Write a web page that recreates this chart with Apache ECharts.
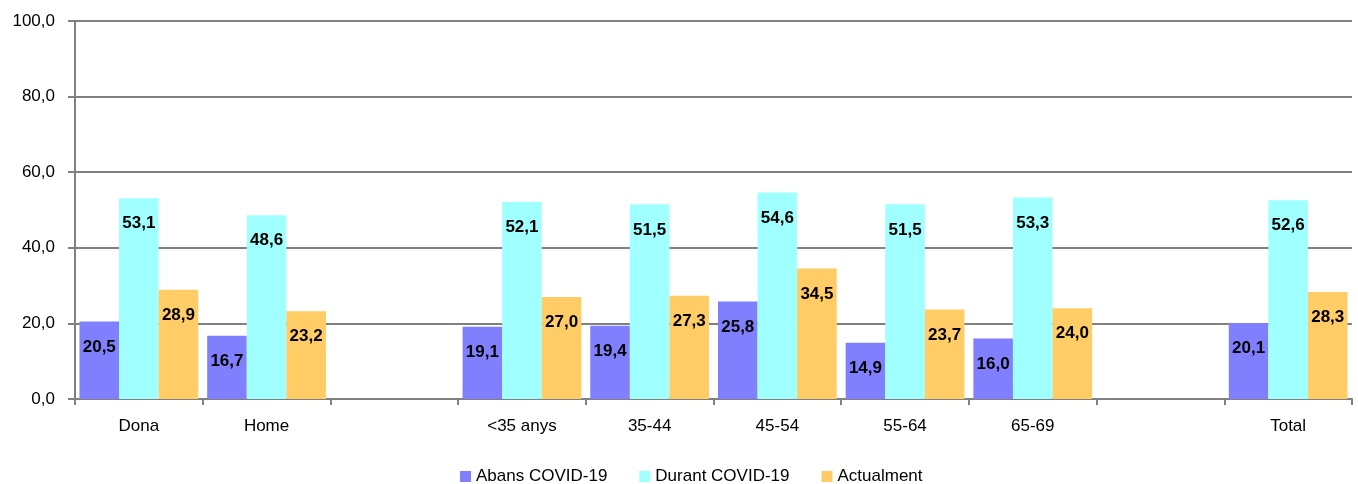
<!DOCTYPE html>
<html><head><meta charset="utf-8">
<script src="https://cdn.jsdelivr.net/npm/echarts@6/dist/echarts.min.js"></script>
<style>html,body{margin:0;padding:0;background:#fff}#c{width:1358px;height:484px}</style>
</head><body><div id="c"></div>
<script>
const categories = ['Dona','Home','','<35 anys','35-44','45-54','55-64','65-69','','Total'];
const abans = [20.5,16.7,null,19.1,19.4,25.8,14.9,16.0,null,20.1];
const durant = [53.1,48.6,null,52.1,51.5,54.6,51.5,53.3,null,52.6];
const actualment = [28.9,23.2,null,27.0,27.3,34.5,23.7,24.0,null,28.3];
const seriesNames = ['Abans COVID-19','Durant COVID-19','Actualment'];
const colors = ['#8080FF','#A0FFFF','#FFCC66'];
const yTicks = {min:0,max:100,interval:20};

const fmt = v => v.toFixed(1).replace('.', ',');
const font = '"Liberation Sans",Arial,sans-serif';
const mk = (name, data, color) => ({
  name, type:'bar', data, barGap:'0%', barCategoryGap:'7%',
  itemStyle:{color},
  label:{show:true, position:'insideTop', distance:17, fontWeight:'bold', fontSize:17,
    fontFamily:font, color:'#000', formatter:p=>fmt(p.value)}
});
const chart = echarts.init(document.getElementById('c'));
chart.setOption({
  animation:false,
  textStyle:{fontFamily:font},
  grid:{left:75,right:6,top:21,bottom:85,containLabel:false},
  legend:{top:463,left:455,itemWidth:11,itemHeight:11,itemGap:32,
    icon:'rect',textStyle:{fontSize:17,color:'#000',fontFamily:font}},
  xAxis:{type:'category',data:categories,
    axisLine:{lineStyle:{color:'#808080',width:2}},
    axisTick:{show:true,length:6,lineStyle:{color:'#808080',width:2}},
    axisLabel:{fontSize:17,color:'#000',margin:19}},
  yAxis:{type:'value',min:yTicks.min,max:yTicks.max,interval:yTicks.interval,
    axisLine:{show:true,lineStyle:{color:'#808080',width:2}},
    axisTick:{show:true,length:7,lineStyle:{color:'#808080',width:2}},
    splitLine:{lineStyle:{color:'#808080',width:2}},
    axisLabel:{fontSize:17,color:'#000',margin:20,formatter:v=>fmt(v)}},
  series:[mk(seriesNames[0],abans,colors[0]),mk(seriesNames[1],durant,colors[1]),mk(seriesNames[2],actualment,colors[2])]
});
</script></body></html>
